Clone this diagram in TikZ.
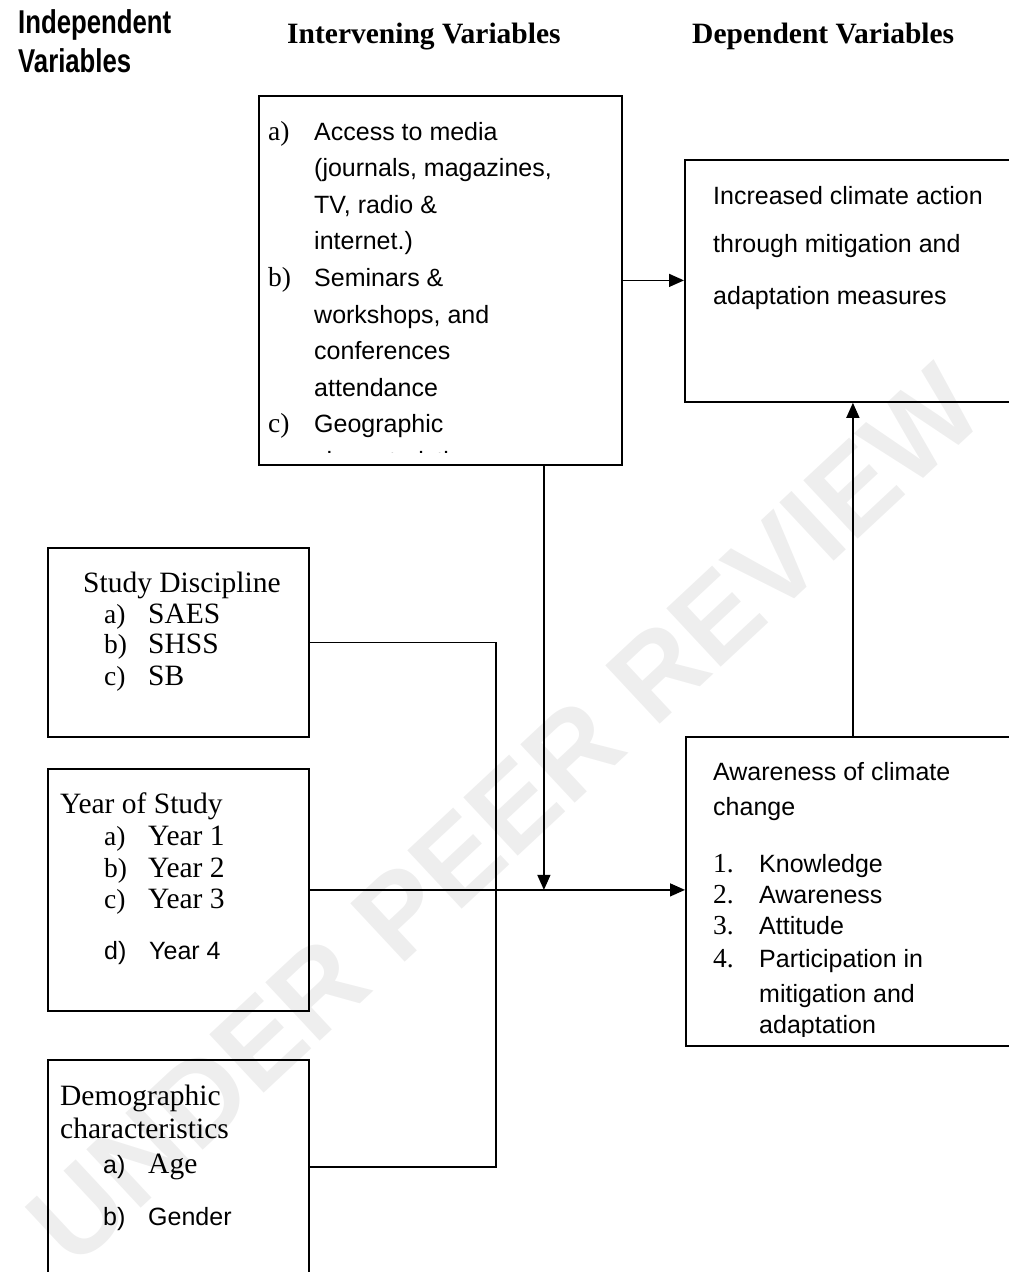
\documentclass[tikz,border=0pt]{standalone}
\usepackage{fontspec}
\setmainfont{Liberation Serif}
\setsansfont{Liberation Sans}
\newfontfamily\hdsans[FakeStretch=0.78]{Liberation Sans}
\usetikzlibrary{arrows.meta}
\begin{document}
\begin{tikzpicture}[x=1pt,y=-1pt,
  box/.style={draw, line width=1.8pt, rectangle, inner sep=0pt, anchor=north west},
  conn/.style={line width=1.4pt},
  arr/.style={line width=1.4pt, -{Triangle[length=15pt,width=13pt]}},
  ss/.style={font=\fontsize{25}{30}\selectfont\sffamily, anchor=base west, inner sep=0pt},
  rm/.style={font=\fontsize{29.5}{32}\selectfont\rmfamily, anchor=base west, inner sep=0pt},
  lab/.style={font=\fontsize{27.5}{30}\selectfont\rmfamily, anchor=base west, inner sep=0pt},
  hdA/.style={font=\fontsize{33}{36}\selectfont\hdsans\bfseries, anchor=base west, inner sep=0pt},
  hdB/.style={font=\fontsize{29.5}{32}\selectfont\rmfamily\bfseries, anchor=base west, inner sep=0pt}]
\useasboundingbox (0,0) rectangle (1009,1272);
\clip (0,0) rectangle (1009,1272);

% watermark
\node[rotate=43, font=\fontsize{116}{116}\selectfont\sffamily\bfseries, text=gray!13] (wm) at (505,815) {UNDER PEER REVIEW};

% headers
\node[hdA] (h1a) at (18,33) {Independent};
\node[hdA] (h1b) at (18,72) {Variables};
\node[hdB] (h2) at (287,43) {Intervening Variables};
\node[hdB] (h3) at (692,43) {Dependent Variables};

% boxes
\node[box, minimum width=363pt, minimum height=369pt] (iv) at (258,95) {};
\node[box, minimum width=360pt, minimum height=242pt] (dv) at (684,159) {};
\node[box, minimum width=360pt, minimum height=309pt] (aw) at (685,736) {};
\node[box, minimum width=261pt, minimum height=189pt] (sd) at (47,547) {};
\node[box, minimum width=261pt, minimum height=242pt] (ys) at (47,768) {};
\node[box, minimum width=261pt, minimum height=260pt] (dm) at (47,1059) {};

% intervening text
\begin{scope}
\clip (258,95) rectangle (621,452);
\node[lab] (ia) at (268,140) {a)};
\node[ss] (i1) at (314,140) {Access to media};
\node[ss] (i2) at (314,176.6) {(journals, magazines,};
\node[ss] (i3) at (314,213.2) {TV, radio \&};
\node[ss] (i4) at (314,249.8) {internet.)};
\node[lab] (ib) at (268,286.4) {b)};
\node[ss] (i5) at (314,286.4) {Seminars \&};
\node[ss] (i6) at (314,323) {workshops, and};
\node[ss] (i7) at (314,359.6) {conferences};
\node[ss] (i8) at (314,396.2) {attendance};
\node[lab] (ic) at (268,432.8) {c)};
\node[ss] (i9) at (314,432.8) {Geographic};
\node[ss] (i10) at (314,469.4) {characteristics};
\end{scope}

% dependent text
\node[ss] (d1) at (713,204) {Increased climate action};
\node[ss] (d2) at (713,252) {through mitigation and};
\node[ss] (d3) at (713,304) {adaptation measures};

% awareness text
\begin{scope}
\clip (685,736) rectangle (1009,1036);
\node[ss] (a1) at (713,780) {Awareness of climate};
\node[ss] (a2) at (713,815) {change};
\node[lab] (n1) at (713,872) {1.};
\node[ss] (a3) at (759,872) {Knowledge};
\node[lab] (n2) at (713,903) {2.};
\node[ss] (a4) at (759,903) {Awareness};
\node[lab] (n3) at (713,934) {3.};
\node[ss] (a5) at (759,934) {Attitude};
\node[lab] (n4) at (713,967) {4.};
\node[ss] (a6) at (759,967) {Participation in};
\node[ss] (a7) at (759,1002) {mitigation and};
\node[ss] (a8) at (759,1033) {adaptation};
\end{scope}

% study discipline
\node[rm] (s0) at (83,592) {Study Discipline};
\node[lab] (sa) at (104,623) {a)};
\node[rm] (s1) at (148,623) {SAES};
\node[lab] (sb) at (104,653) {b)};
\node[rm] (s2) at (148,653) {SHSS};
\node[lab] (sc) at (104,685) {c)};
\node[rm] (s3) at (148,685) {SB};

% year of study
\node[rm] (y0) at (60,813) {Year of Study};
\node[lab] (ya) at (104,845) {a)};
\node[rm] (y1) at (148,845) {Year 1};
\node[lab] (yb) at (104,877) {b)};
\node[rm] (y2) at (148,877) {Year 2};
\node[lab] (yc) at (104,908) {c)};
\node[rm] (y3) at (148,908) {Year 3};
\node[ss] (yd) at (104,959) {d)};
\node[ss] (y4) at (149,959) {Year 4};

% demographic
\node[rm] (m0) at (60,1105) {Demographic};
\node[rm] (m1) at (60,1138) {characteristics};
\node[ss] (ma) at (103,1173) {a)};
\node[rm] (m2) at (148,1173) {Age};
\node[ss] (mb) at (103,1225) {b)};
\node[ss] (m3) at (148,1225) {Gender};

% connectors
\coordinate (j1) at (496,889);
\draw[conn] (sd.east) -| (j1);
\draw[conn] ([yshift=-108pt]dm.north east) -| (j1);
\draw[arr] (ys.east) -- (ys.east -| aw.west);
\draw[arr] ([xshift=103.5pt]iv.south) -- ([xshift=103.5pt]iv.south |- ys.east);
\draw[arr] (iv.east) -- (iv.east -| dv.west);
\draw[arr] ([xshift=-13pt]aw.north) -- ([xshift=-13pt]aw.north |- dv.south);
\end{tikzpicture}
\end{document}
